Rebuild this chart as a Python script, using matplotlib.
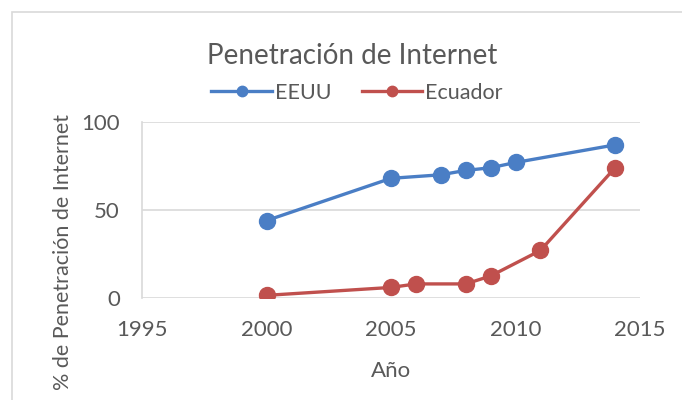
import matplotlib
matplotlib.use('Agg')
import matplotlib.pyplot as plt
from matplotlib.patches import Rectangle

# Data
years_eeuu = [2000, 2005, 2007, 2008, 2009, 2010, 2014]
eeuu = [44, 68, 70, 72.5, 74, 77, 87]
years_ecuador = [2000, 2005, 2006, 2008, 2009, 2011, 2014]
ecuador = [1.5, 6, 8, 8, 12.5, 27, 74]

x_ticks = [1995, 2000, 2005, 2010, 2015]
y_ticks = [0, 50, 100]

blue = '#4A7EC5'
red = '#C0504D'
text_color = '#595959'
grid_color = '#D9D9D9'

plt.rcParams['font.family'] = ['Lato', 'DejaVu Sans']

fig = plt.figure(figsize=(6.82, 4.0), dpi=100)
ax = fig.add_axes([142 / 682, 1 - 298 / 400, (640 - 142) / 682, (298 - 122) / 400])

# chart area border (only top and left edges fall inside the picture)
fig.patches.append(Rectangle((12 / 682, -0.1), 1.2, 1 - 12 / 400 + 0.1,
                             transform=fig.transFigure, fill=False,
                             edgecolor=grid_color, linewidth=1.2))

ax.plot(years_eeuu, eeuu, color=blue, linewidth=2.4, marker='o',
        markersize=11.5, label='EEUU', zorder=3)
ax.plot(years_ecuador, ecuador, color=red, linewidth=2.4, marker='o',
        markersize=11.5, label='Ecuador', zorder=3)

ax.set_xlim(1995, 2015)
ax.set_ylim(0, 100)
ax.set_xticks(x_ticks)
ax.set_yticks(y_ticks)
ax.tick_params(length=0, labelsize=16, colors=text_color, pad=16)
ax.grid(axis='y', color=grid_color, linewidth=1.2)
ax.set_axisbelow(True)
for side in ['top', 'right', 'bottom']:
    ax.spines[side].set_visible(False)
ax.spines['left'].set_color(grid_color)
ax.spines['left'].set_linewidth(1.2)

ax.set_xlabel('Año', fontsize=16, color=text_color, labelpad=15)

fig.text(352 / 682, 1 - 56 / 400, 'Penetración de Internet', fontsize=20,
         color=text_color, ha='center', va='center')
# y axis title, reaching down to the bottom edge
fig.text(63 / 682, 1 - 114 / 400, '% de Penetración de Internet', fontsize=15.5,
         color=text_color, ha='right', va='center', rotation=90,
         rotation_mode='anchor')

fig.legend(loc='center', bbox_to_anchor=(357 / 682, 1 - 93 / 400), ncol=2,
           frameon=False, fontsize=15.5, labelcolor=text_color,
           handlelength=2.8, handletextpad=0.15, columnspacing=1.4,
           markerscale=0.65)

fig.savefig('out.png', dpi=100)
